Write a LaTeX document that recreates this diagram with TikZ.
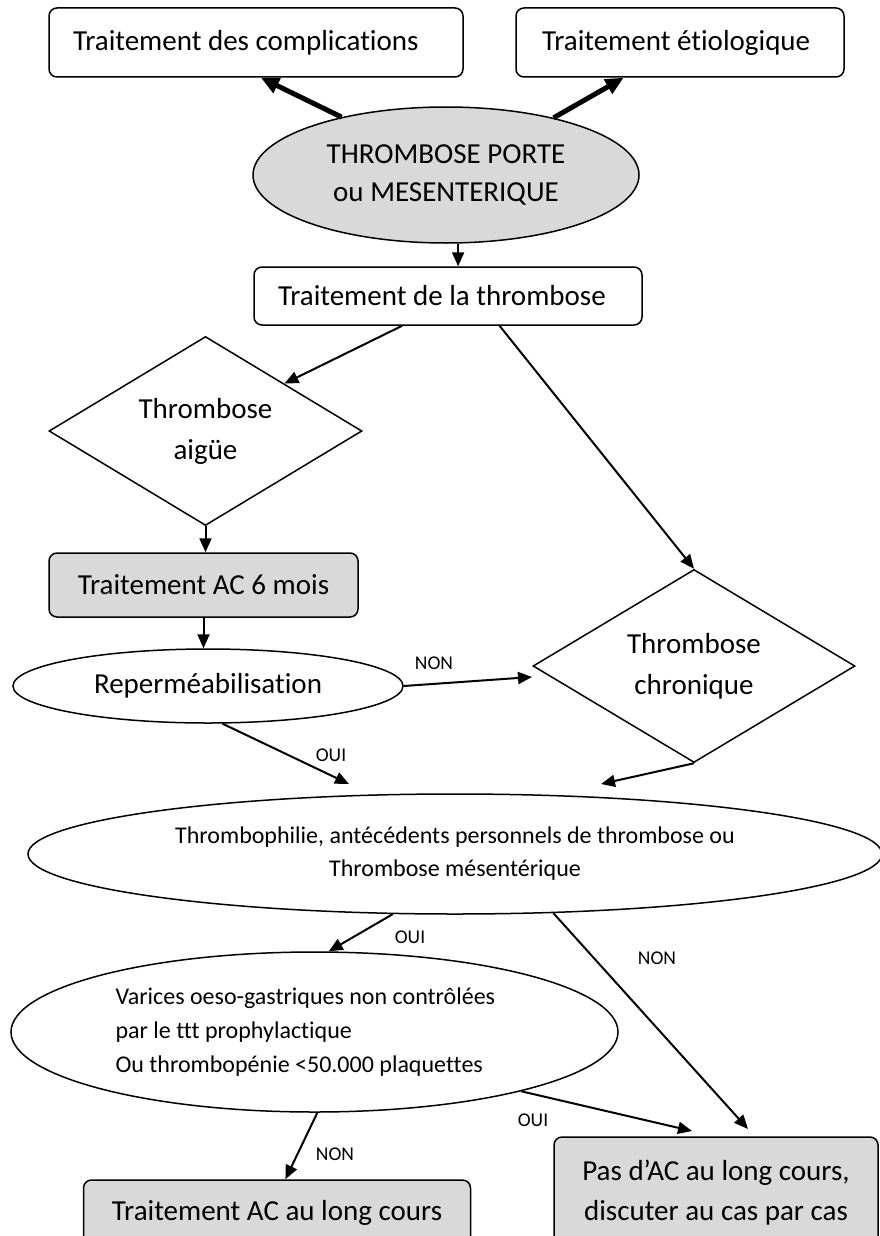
\documentclass[tikz,border=0pt]{standalone}
\usepackage{fontspec}
\setmainfont{Carlito}[Ligatures=NoCommon]
\usetikzlibrary{arrows.meta,shapes.geometric}
\definecolor{boxgrey}{HTML}{D9D9D9}

\begin{document}
\begin{tikzpicture}[x=1pt, y=-1pt, >={Triangle[length=14pt,width=12pt]},
    box/.style={draw, line width=1.5pt, rounded corners=8pt, font=\fontsize{29}{40}\selectfont},
    oval/.style={ellipse, draw, line width=1.5pt, inner sep=0pt},
    losange/.style={diamond, aspect=1.65, draw, line width=1.5pt, inner sep=0pt, align=center, font=\fontsize{29}{41}\selectfont},
    fleche/.style={->, line width=2pt},
    grosse/.style={-{Triangle[length=18pt,width=16pt]}, line width=5pt},
    choix/.style={font=\fontsize{19.5}{20}\selectfont, inner sep=0pt}]
    \useasboundingbox (0,0) rectangle (880,1236);

    \node[box, minimum height=69pt, text width=366pt, inner xsep=24pt, align=flush left] (compl) at (256,42.5) {Traitement des complications};
    \node[box, minimum height=69pt, text width=276pt, inner xsep=26pt, align=flush left] (etio) at (680,42.5) {Traitement étiologique};
    \node[oval, fill=boxgrey, minimum width=386pt, minimum height=136pt, align=center, font=\fontsize{29}{38}\selectfont] (tvp) at (446,175) {THROMBOSE PORTE\\ou MESENTERIQUE};
    \node[box, minimum height=58pt, text width=340pt, inner xsep=24pt, align=flush left] (trt) at (448,296) {Traitement de la thrombose};
    \node[losange, minimum width=313pt, minimum height=189pt] (aigue) at (205.5,431) {Thrombose\\aigüe};
    \node[box, fill=boxgrey, minimum width=309pt, minimum height=64pt] (ac6) at (203.5,585) {Traitement AC 6 mois};
    \node[oval, minimum width=390pt, minimum height=74pt, font=\fontsize{29}{40}\selectfont] (rep) at (208,686) {Reperméabilisation};
    \node[losange, minimum width=322pt, minimum height=193pt] (chro) at (694,666) {Thrombose\\chronique};
    \node[oval, minimum width=854pt, minimum height=120pt, align=center, font=\fontsize{24}{33}\selectfont] (thr) at (455,854) {Thrombophilie, antécédents personnels de thrombose ou\\Thrombose mésentérique};
    \node[oval, minimum width=607pt, minimum height=160pt, text width=398pt, align=flush left, font=\fontsize{24}{34}\selectfont] (var) at (314.5,1032) {Varices oeso-gastriques non contrôlées\\par le ttt prophylactique\\Ou thrombopénie <50.000 plaquettes};
    \node[box, fill=boxgrey, minimum width=387pt, minimum height=66pt] (longc) at (277,1213) {Traitement AC au long cours};
    \node[box, fill=boxgrey, minimum width=324pt, minimum height=112pt, align=center] (pasac) at (716,1193) {Pas d’AC au long cours,\\discuter au cas par cas};

    \coordinate (nonA) at (532,677);
    \coordinate (ouiA) at (349,784);
    \coordinate (chroA) at (601,784);
    \coordinate (nonB) at (748,1129);
    \coordinate (ouiB) at (692,1131);

    \draw[grosse] (tvp.151) -- (compl.278);
    \draw[grosse] (tvp.28) -- (etio.212);
    \draw[fleche] (tvp.280) -- (tvp.280 |- trt.north);
    \draw[fleche] (trt.213) -- (aigue.31);
    \draw[fleche] (trt.330) -- (chro.north);
    \draw[fleche] (aigue.south) -- (aigue.south |- ac6.north);
    \draw[fleche] (ac6.south) -- (ac6.south |- rep.north);
    \draw[fleche] (rep.east) -- (nonA);
    \draw[fleche] (rep.291) -- (ouiA);
    \draw[fleche] (chro.south) -- (chroA);
    \draw[fleche] (thr.224) -- (var.80);
    \draw[fleche] (thr.329) -- (nonB);
    \draw[fleche] (var.344) -- (ouiB);
    \draw[fleche] (var.272) -- (longc.76);

    \node[choix] (lnon1) at (434,663) {NON};
    \node[choix] (loui1) at (331,755) {OUI};
    \node[choix] (loui2) at (410,937) {OUI};
    \node[choix] (lnon2) at (657,958) {NON};
    \node[choix] (loui3) at (533,1120) {OUI};
    \node[choix] (lnon3) at (335,1154) {NON};
\end{tikzpicture}
\end{document}
